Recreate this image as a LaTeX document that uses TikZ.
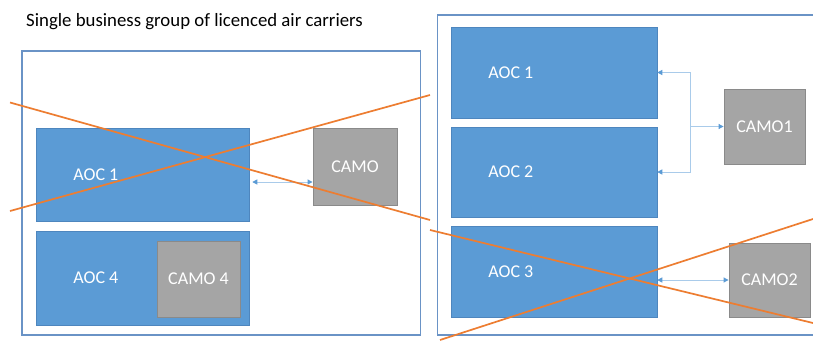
\documentclass[tikz,border=0pt]{standalone}
\usepackage{fontspec}
\setmainfont{Carlito}
\usetikzlibrary{arrows.meta}
\definecolor{boxblue}{HTML}{5B9BD5}
\definecolor{boxblueedge}{HTML}{4E86BE}
\definecolor{boxgray}{HTML}{A5A5A5}
\definecolor{grayedge}{HTML}{8A8A8A}
\definecolor{frameblue}{HTML}{6A93C6}
\definecolor{connline}{HTML}{A9CBEA}
\definecolor{crossorange}{HTML}{ED7D31}
\tikzset{
  frame/.style={draw=frameblue, line width=1.8pt, fill=none},
  aocbox/.style={rectangle, draw=boxblueedge, line width=0.5pt, fill=boxblue, inner sep=0pt},
  camobox/.style={rectangle, draw=grayedge, line width=0.9pt, fill=boxgray, inner sep=0pt,
    text=white, font=\fontsize{18}{20}\selectfont},
  aoclabel/.style={label={[anchor=west, inner sep=0pt, xshift=37.5pt, text=white, font=\fontsize{18}{20}\selectfont]west:#1}},
  conn/.style={draw=connline, line width=1pt},
  tipb/.tip={Triangle[length=5pt, width=5pt, color=boxblue]},
  crossline/.style={draw=crossorange, line width=1.7pt},
}
\begin{document}
\begin{tikzpicture}[x=1pt, y=-1pt]
\useasboundingbox (0,0) rectangle (813,340);
\fill[white] (0,0) rectangle (813,340);

% title
\node[anchor=base west, inner sep=0pt, font=\fontsize{18.8}{20}\selectfont] (title) at (26,26.5)
  {Single business group of licenced air carriers};

% frames
\draw[frame] (22,51) rectangle (420.5,335);
\draw[frame] (437.5,15) rectangle (820,335);

% left panel
\node[aocbox, minimum width=213pt, minimum height=93pt, aoclabel={AOC 1}] (la1) at (142.5,174.5) {};
\node[aocbox, minimum width=213pt, minimum height=94pt, aoclabel={AOC 4}] (la4) at (142.5,278) {};
\node[camobox, minimum width=83pt, minimum height=76pt] (lc4) at (198.5,279) {CAMO 4};
\node[camobox, minimum width=84pt, minimum height=77pt] (lc) at (355,166.5) {CAMO};

% right panel
\node[aocbox, minimum width=206pt, minimum height=91pt, aoclabel={AOC 1}] (ra1) at (554,72.5) {};
\node[aocbox, minimum width=206pt, minimum height=90pt, aoclabel={AOC 2}] (ra2) at (554,172) {};
\node[aocbox, minimum width=206pt, minimum height=91pt, aoclabel={AOC 3}] (ra3) at (554,271.5) {};
\node[camobox, minimum width=81pt, minimum height=75pt] (rc1) at (764.5,126.5) {CAMO1};
\node[camobox, minimum width=81pt, minimum height=74pt] (rc2) at (769.5,280) {CAMO2};

% connectors
\coordinate (la1a) at ([yshift=-7.5pt, xshift=3pt]la1.east);
\draw[conn, {tipb}-{tipb}] (la1a) -- (la1a -| lc.west);
\coordinate (j) at (690,126.5);
\draw[conn, {tipb}-{tipb}] (ra1.east) -| (j |- ra2.east) -- (ra2.east);
\draw[conn, -{tipb}] (j) -- (rc1.west);
\draw[conn, {tipb}-{tipb}] (ra3.east |- rc2.west) -- (rc2.west);

% crosses
\draw[crossline] (10,102.5) -- (430,220);
\draw[crossline] (10,211) -- (430,95);
\draw[crossline] (430,230) -- (813,323);
\draw[crossline] (440,340) -- (813,219);
\end{tikzpicture}
\end{document}
